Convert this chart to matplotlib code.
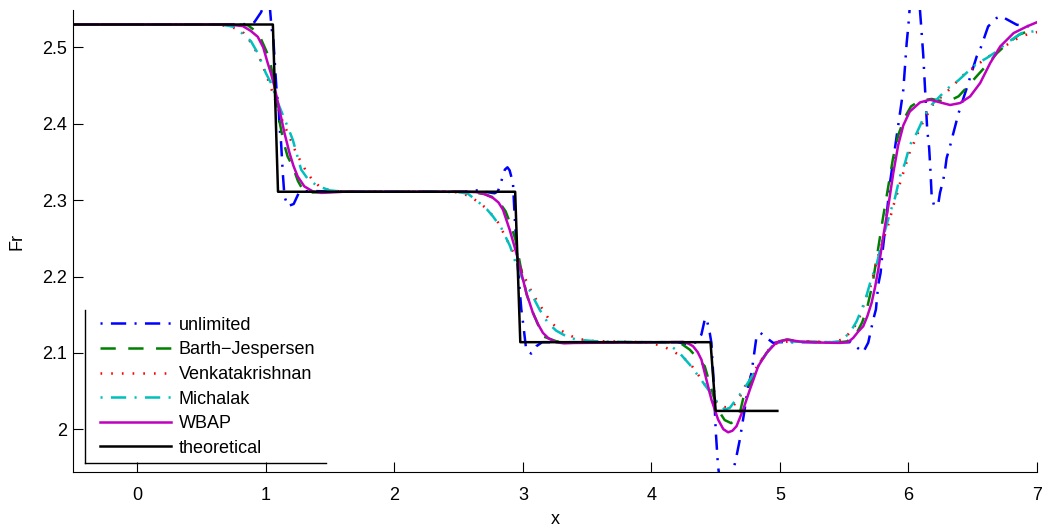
import numpy as np
import matplotlib
matplotlib.use("Agg")
import matplotlib.pyplot as plt
from matplotlib.lines import Line2D

plt.rcParams['font.family'] = ['Liberation Sans', 'DejaVu Sans']
plt.rcParams['lines.scale_dashes'] = False

# theoretical step solution
th_x = [-0.5, 1.055, 1.095, 2.94, 2.98, 4.46, 4.50, 4.98]
th_y = [2.53, 2.53, 2.311, 2.311, 2.114, 2.114, 2.024, 2.024]

wbap = [(-0.5, 2.53), (0.70, 2.53), (0.82, 2.528), (0.88, 2.522), (0.937, 2.514), (0.98, 2.500),
        (1.014, 2.480), (1.04, 2.466), (1.067, 2.449), (1.106, 2.4185), (1.145, 2.388), (1.184, 2.362),
        (1.215, 2.345), (1.248, 2.331), (1.30, 2.318), (1.365, 2.3115), (1.43, 2.3095), (1.50, 2.310),
        (1.60, 2.311), (2.40, 2.311), (2.55, 2.311), (2.637, 2.3105), (2.70, 2.308), (2.767, 2.303),
        (2.81, 2.297), (2.845, 2.2876), (2.897, 2.2614), (2.949, 2.2309), (2.988, 2.2047), (3.027, 2.1785),
        (3.078, 2.1524), (3.12, 2.137), (3.156, 2.1262), (3.20, 2.119), (3.26, 2.1139), (3.32, 2.1125),
        (3.40, 2.113), (4.10, 2.114), (4.20, 2.1142), (4.246, 2.1144), (4.29, 2.112), (4.324, 2.1087),
        (4.36, 2.101), (4.389, 2.0912), (4.428, 2.065), (4.467, 2.0388), (4.519, 2.0126), (4.56, 2.000),
        (4.597, 1.996), (4.63, 1.998), (4.662, 2.0039), (4.714, 2.0257), (4.766, 2.0519), (4.831, 2.0825),
        (4.896, 2.100), (4.974, 2.1139), (5.052, 2.1174), (5.156, 2.1148), (5.30, 2.1135), (5.467, 2.1131),
        (5.53, 2.114), (5.57, 2.1196), (5.61, 2.128), (5.648, 2.1348), (5.68, 2.148), (5.713, 2.1654),
        (5.74, 2.186), (5.765, 2.209), (5.804, 2.2526), (5.843, 2.2919), (5.882, 2.3356), (5.92, 2.372),
        (5.96, 2.398), (6.01, 2.416), (6.09, 2.428), (6.168, 2.4315), (6.246, 2.428), (6.324, 2.4246),
        (6.402, 2.4272), (6.48, 2.4359), (6.558, 2.4534), (6.636, 2.4796), (6.714, 2.5013), (6.818, 2.5188),
        (6.922, 2.5275), (7.0, 2.533)]

barth = [(-0.5, 2.53), (0.78, 2.53), (0.86, 2.529), (0.924, 2.521), (0.96, 2.512), (0.989, 2.501),
         (1.028, 2.486), (1.054, 2.464), (1.08, 2.435), (1.11, 2.40), (1.14, 2.375), (1.17, 2.357),
         (1.21, 2.344), (1.25, 2.325), (1.287, 2.314), (1.365, 2.310), (1.45, 2.3105), (1.6, 2.311),
         (2.45, 2.311), (2.60, 2.3105), (2.70, 2.308), (2.78, 2.303), (2.83, 2.294), (2.866, 2.2853),
         (2.91, 2.2657), (2.943, 2.248), (2.98, 2.215), (3.03, 2.176), (3.08, 2.152), (3.156, 2.1217),
         (3.26, 2.1152), (3.40, 2.1135), (4.10, 2.114), (4.22, 2.1135), (4.298, 2.1043), (4.345, 2.0956),
         (4.38, 2.089), (4.415, 2.0825), (4.441, 2.0673), (4.48, 2.045), (4.52, 2.025), (4.57, 2.012),
         (4.62, 2.008), (4.662, 2.0126), (4.688, 2.0214), (4.727, 2.0497), (4.766, 2.0585), (4.831, 2.0847),
         (4.87, 2.0934), (4.93, 2.108), (4.99, 2.115), (5.06, 2.1175), (5.15, 2.115), (5.45, 2.1135),
         (5.52, 2.115), (5.56, 2.119), (5.60, 2.127), (5.64, 2.140), (5.68, 2.160), (5.72, 2.19),
         (5.76, 2.232), (5.80, 2.275), (5.84, 2.315), (5.88, 2.355), (5.92, 2.385), (5.97, 2.408),
         (6.02, 2.4228), (6.06, 2.4272), (6.12, 2.431), (6.18, 2.4325), (6.27, 2.4293), (6.33, 2.431),
         (6.39, 2.436), (6.45, 2.447), (6.54, 2.464), (6.61, 2.477), (6.69, 2.4927), (6.76, 2.5037),
         (6.86, 2.5166), (6.96, 2.5232), (7.0, 2.525)]

venkat = [(-0.5, 2.53), (0.60, 2.53), (0.70, 2.528), (0.763, 2.525), (0.828, 2.5188), (0.90, 2.503),
          (0.963, 2.4817), (1.03, 2.452), (1.08, 2.428), (1.131, 2.4031), (1.171, 2.388), (1.236, 2.3618),
          (1.30, 2.342), (1.36, 2.3268), (1.417, 2.318), (1.50, 2.3125), (1.62, 2.311), (2.40, 2.311),
          (2.507, 2.3102), (2.585, 2.305), (2.658, 2.2971), (2.72, 2.2885), (2.80, 2.273), (2.865, 2.2518),
          (2.925, 2.232), (2.975, 2.2134), (3.03, 2.193), (3.078, 2.1763), (3.13, 2.1632), (3.221, 2.1393),
          (3.286, 2.1305), (3.35, 2.124), (3.428, 2.1183), (3.55, 2.1155), (3.80, 2.1145), (3.95, 2.114),
          (4.01, 2.1122), (4.09, 2.1087), (4.168, 2.1021), (4.241, 2.0947), (4.298, 2.0869), (4.363, 2.0716),
          (4.415, 2.0585), (4.454, 2.0476), (4.532, 2.0301), (4.61, 2.028), (4.662, 2.0345), (4.70, 2.046),
          (4.74, 2.0607), (4.766, 2.0673), (4.857, 2.0912), (4.934, 2.1087), (5.0, 2.1145), (5.15, 2.115),
          (5.40, 2.114), (5.50, 2.118), (5.583, 2.135), (5.622, 2.148), (5.674, 2.174), (5.705, 2.187),
          (5.76, 2.225), (5.817, 2.255), (5.843, 2.268), (5.887, 2.295), (5.913, 2.309), (5.934, 2.322),
          (5.96, 2.336), (5.986, 2.35), (6.012, 2.364), (6.05, 2.378), (6.09, 2.395), (6.19, 2.425),
          (6.30, 2.442), (6.44, 2.466), (6.5, 2.473), (6.64, 2.49), (6.79, 2.506), (6.87, 2.514),
          (6.96, 2.519), (7.0, 2.52)]

michalak = [(-0.5, 2.53), (0.65, 2.53), (0.75, 2.527), (0.82, 2.518), (0.885, 2.508), (0.937, 2.4927),
            (1.0, 2.4665), (1.04, 2.4534), (1.10, 2.425), (1.18, 2.392), (1.21, 2.379), (1.275, 2.34),
            (1.33, 2.327), (1.40, 2.319), (1.495, 2.3128), (1.573, 2.3115), (1.70, 2.311), (2.35, 2.311),
            (2.50, 2.3105), (2.572, 2.3085), (2.663, 2.2963), (2.72, 2.288), (2.767, 2.2788), (2.832, 2.2636),
            (2.90, 2.24), (2.95, 2.215), (3.0, 2.196), (3.05, 2.1828), (3.13, 2.1567), (3.195, 2.1392),
            (3.26, 2.129), (3.338, 2.1217), (3.416, 2.1174), (3.57, 2.1152), (3.70, 2.1145), (3.95, 2.114),
            (4.04, 2.1135), (4.117, 2.1131), (4.207, 2.1021), (4.298, 2.0847), (4.376, 2.0673), (4.45, 2.050),
            (4.51, 2.036), (4.571, 2.0258), (4.61, 2.028), (4.649, 2.0367), (4.688, 2.0454), (4.74, 2.058),
            (4.792, 2.0716), (4.831, 2.0825), (4.89, 2.098), (4.948, 2.1109), (5.02, 2.1155), (5.15, 2.1145),
            (5.40, 2.114), (5.466, 2.1152), (5.544, 2.1262), (5.597, 2.1414), (5.661, 2.1676), (5.713, 2.1981),
            (5.752, 2.2155), (5.80, 2.25), (5.856, 2.2832), (5.895, 2.3028), (5.934, 2.3312), (5.973, 2.3486),
            (6.012, 2.3726), (6.064, 2.3879), (6.129, 2.4119), (6.181, 2.4249), (6.25, 2.437), (6.31, 2.4469),
            (6.388, 2.4568), (6.46, 2.468), (6.531, 2.4786), (6.609, 2.4861), (6.686, 2.4948), (6.764, 2.5058),
            (6.88, 2.5188), (6.97, 2.521), (7.0, 2.522)]

unlimited = [(-0.5, 2.53), (0.80, 2.53), (0.87, 2.531), (0.911, 2.533), (0.963, 2.546), (1.0, 2.562),
             (1.028, 2.56), (1.045, 2.525), (1.059, 2.51), (1.085, 2.44), (1.1, 2.423), (1.106, 2.397),
             (1.119, 2.375), (1.132, 2.336), (1.145, 2.305), (1.171, 2.292), (1.217, 2.295), (1.254, 2.3085),
             (1.274, 2.3115), (1.35, 2.312), (1.60, 2.311), (2.55, 2.311), (2.60, 2.313), (2.637, 2.3128),
             (2.70, 2.311), (2.78, 2.309), (2.806, 2.3115), (2.832, 2.3246), (2.86, 2.340), (2.88, 2.343),
             (2.897, 2.339), (2.923, 2.3225), (2.936, 2.279), (2.96, 2.215), (2.988, 2.1567), (3.0, 2.1414),
             (3.026, 2.104), (3.065, 2.099), (3.104, 2.1086), (3.15, 2.114), (3.30, 2.114), (4.20, 2.114),
             (4.298, 2.1109), (4.35, 2.114), (4.389, 2.124), (4.415, 2.1436), (4.428, 2.1458), (4.454, 2.126),
             (4.467, 2.113), (4.485, 2.06), (4.50, 1.9996), (4.518, 1.952), (4.54, 1.925), (4.58, 1.915),
             (4.623, 1.935), (4.662, 1.9647), (4.688, 1.9865), (4.72, 2.02), (4.753, 2.0563), (4.779, 2.0738),
             (4.818, 2.1217), (4.85, 2.126), (4.896, 2.1196), (4.948, 2.113), (5.0, 2.114), (5.55, 2.114),
             (5.60, 2.107), (5.648, 2.1008), (5.687, 2.1134), (5.726, 2.1436), (5.747, 2.157), (5.765, 2.1894),
             (5.783, 2.2047), (5.80, 2.235), (5.83, 2.28), (5.856, 2.3225), (5.882, 2.353), (5.934, 2.414),
             (5.96, 2.4446), (5.986, 2.5057), (6.0, 2.53), (6.02, 2.575), (6.05, 2.59), (6.08, 2.57),
             (6.097, 2.532), (6.115, 2.49), (6.146, 2.392), (6.161, 2.3683), (6.172, 2.3356), (6.18, 2.307),
             (6.2, 2.292), (6.232, 2.2954), (6.245, 2.3094), (6.271, 2.3268), (6.285, 2.34), (6.297, 2.3552),
             (6.323, 2.3704), (6.345, 2.385), (6.39, 2.414), (6.45, 2.445), (6.531, 2.4882), (6.557, 2.497),
             (6.62, 2.5275), (6.686, 2.5385), (6.72, 2.541), (6.78, 2.5354), (6.842, 2.5297), (6.946, 2.5275),
             (7.0, 2.531)]

fig = plt.figure(figsize=(10.44, 5.30), dpi=100)
ax = fig.add_axes([73 / 1044, 58 / 530, 964 / 1044, 462 / 530])

dashdot = (0, (1.5, 6, 11, 6))
lw = 1.8
series = [
    (unlimited, 'unlimited', (0, 0, 1), dashdot),
    (barth, 'Barth\u2212Jespersen', (0, 0.5, 0), (0, (11, 9))),
    (venkat, 'Venkatakrishnan', (1, 0, 0), (0, (1.2, 6.5))),
    (michalak, 'Michalak', (0, 0.75, 0.75), dashdot),
    (wbap, 'WBAP', (0.75, 0, 0.75), '-'),
]
for data, name, col, ls in series:
    xs, ys = np.array(data).T
    ax.plot(xs, ys, color=col, linestyle=ls, linewidth=lw, label=name)
ax.plot(th_x, th_y, color='k', linewidth=lw, label='theoretical')

fs = 13
ax.set_xlim(-0.5, 7)
ax.set_ylim(1.944, 2.549)
ax.set_xticks(range(0, 8))
ax.set_yticks([2.0, 2.1, 2.2, 2.3, 2.4, 2.5])
ax.set_yticklabels(['2', '2.1', '2.2', '2.3', '2.4', '2.5'])
ax.spines['top'].set_visible(False)
ax.spines['right'].set_visible(False)
ax.tick_params(direction='in', length=7, labelsize=fs, top=False, right=False)
ax.tick_params(axis='x', pad=11)
ax.tick_params(axis='y', pad=4)
ax.set_xlabel('x', fontsize=fs, labelpad=5)
ax.set_ylabel('Fr', fontsize=fs, labelpad=12)

leg = ax.legend(loc='lower left', bbox_to_anchor=(21 / 964, 9 / 462), borderaxespad=0,
                frameon=False, fontsize=fs, handlelength=3.9, handletextpad=0.45,
                labelspacing=0.42, borderpad=0.35)

# legend box drawn on the left and bottom sides only
fig.canvas.draw()
bb = leg.get_window_extent()
inv = fig.transFigure.inverted()
(x0, y0), (x1, y1) = inv.transform([(bb.x0 - 9, bb.y0), (bb.x1 + 4, bb.y1)])
fig.add_artist(Line2D([x0, x0], [y0, y1], color='k', linewidth=1.0))
fig.add_artist(Line2D([x0, x1], [y0, y0], color='k', linewidth=1.0))

fig.savefig('out.png', dpi=100)
